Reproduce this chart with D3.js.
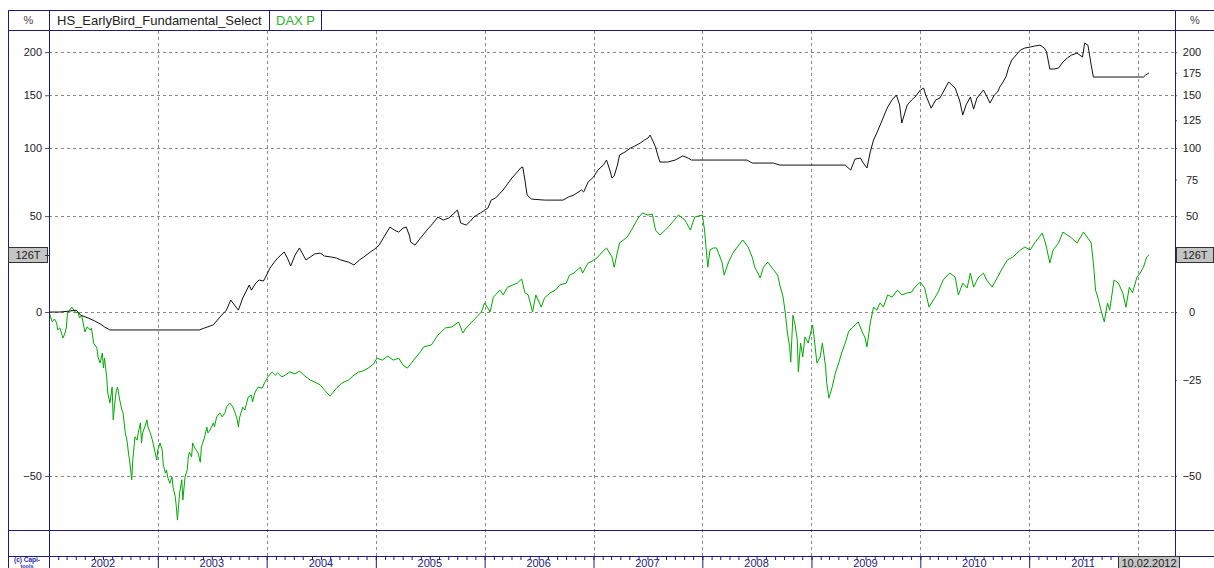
<!DOCTYPE html>
<html><head><meta charset="utf-8">
<script src="https://cdnjs.cloudflare.com/ajax/libs/d3/7.8.5/d3.min.js"></script>
<style>html,body{margin:0;padding:0;background:#fff;}svg{display:block;font-family:"Liberation Sans",Arial,sans-serif;}</style>
</head><body><svg id="c" width="1214" height="568"></svg>
<script>
const seriesNames = ["HS_EarlyBird_Fundamental_Select", "DAX P"];
const fundT = [2002.00,2002.10,2002.19,2002.25,2002.29,2002.36,2002.42,2002.47,2002.51,2002.56,
2003.38,2003.43,2003.51,2003.57,2003.63,2003.67,2003.71,2003.74,2003.78,2003.84,
2003.86,2003.90,2003.93,2003.97,2003.99,2004.03,2004.07,2004.10,2004.13,2004.16,
2004.19,2004.22,2004.26,2004.30,2004.33,2004.36,2004.40,2004.44,2004.49,2004.53,
2004.59,2004.64,2004.68,2004.75,2004.80,2004.85,2004.89,2004.95,2004.99,2005.03,
2005.08,2005.13,2005.17,2005.21,2005.25,2005.28,2005.31,2005.32,2005.36,2005.41,
2005.47,2005.52,2005.57,2005.62,2005.67,2005.71,2005.75,2005.78,2005.83,2005.87,
2005.90,2005.96,2006.03,2006.06,2006.10,2006.17,2006.21,2006.25,2006.30,2006.33,
2006.35,2006.37,2006.39,2006.43,2006.55,2006.72,2006.77,2006.82,2006.89,2006.91,
2006.95,2007.00,2007.04,2007.09,2007.12,2007.15,2007.17,2007.19,2007.22,2007.24,
2007.29,2007.34,2007.38,2007.43,2007.47,2007.50,2007.52,2007.55,2007.57,2007.59,
2007.61,2007.68,2007.75,2007.82,2007.87,2007.90,2008.10,2008.41,2008.44,2008.46,
2008.65,2008.71,2009.31,2009.36,2009.40,2009.45,2009.47,2009.51,2009.54,2009.57,
2009.60,2009.65,2009.68,2009.70,2009.74,2009.78,2009.81,2009.83,2009.86,2009.88,
2009.92,2009.96,2010.00,2010.03,2010.05,2010.08,2010.10,2010.14,2010.18,2010.22,
2010.26,2010.29,2010.32,2010.36,2010.39,2010.42,2010.46,2010.49,2010.52,2010.58,
2010.61,2010.64,2010.68,2010.71,2010.73,2010.76,2010.79,2010.81,2010.84,2010.88,
2010.92,2010.96,2011.01,2011.05,2011.10,2011.14,2011.16,2011.19,2011.23,2011.27,
2011.31,2011.35,2011.39,2011.44,2011.49,2011.51,2011.54,2011.57,2011.59,2011.68,
2012.05,2012.07,2012.10];
const fundV = [0,0,0.4,0.8,-1.3,-2.5,-3.7,-4.9,-6.1,-7.3,
-7.3,-6.5,-5.3,-2.1,0.8,5.2,2.6,0.8,6.1,12.1,
9.7,13.0,14.5,14.0,15.9,20.4,23.5,25.6,27.2,28.9,
25.6,21.5,27.2,31.1,27.8,24.6,26.2,27.8,28.3,26.7,
26.2,25.6,24.6,23.5,22.0,24.6,26.2,28.9,30.5,32.7,
37.9,43.2,41.4,40.2,42.6,43.2,37.9,34.4,32.7,36.7,
41.4,45.1,49.4,47.5,48.8,51.3,53.9,45.7,44.4,46.9,
49.4,52.0,55.2,60.5,61.9,67.5,71.8,76.2,80.7,83.8,
84.6,74.7,64.0,61.2,60.5,60.5,62.6,64.0,67.5,66.1,
73.2,76.9,82.2,86.1,90.1,82.2,76.2,77.7,86.1,94.2,
96.7,100.0,101.7,104.3,106.9,108.6,111.3,105.1,100.8,94.2,
88.5,88.5,90.1,93.4,91.7,90.1,90.1,90.1,88.5,87.7,
87.7,86.1,86.1,82.2,90.9,91.7,88.5,83.8,96.7,106.9,
113.1,125.1,132.9,137.8,145.0,150.2,139.9,122.3,132.9,139.9,
145.0,149.2,155.6,157.7,150.2,141.9,136.8,145.0,147.1,155.6,
164.4,161.0,157.7,145.0,129.9,139.9,148.1,135.8,147.1,155.6,
149.2,141.9,150.2,153.4,158.8,164.4,171.2,180.5,190.1,196.3,
202.6,205.2,206.5,207.8,209.0,205.2,200.1,179.3,179.3,180.5,
187.7,192.6,196.3,198.8,193.8,211.7,209.0,184.0,170.0,170.0,
170.0,172.3,174.6];
const daxT = [2002.00,2002.03,2002.05,2002.07,2002.08,2002.10,2002.12,2002.13,2002.15,2002.16,
2002.17,2002.21,2002.24,2002.27,2002.28,2002.30,2002.33,2002.35,2002.38,2002.39,
2002.41,2002.44,2002.45,2002.47,2002.49,2002.50,2002.51,2002.53,2002.54,2002.56,
2002.58,2002.59,2002.61,2002.62,2002.63,2002.65,2002.67,2002.68,2002.70,2002.72,
2002.73,2002.74,2002.76,2002.77,2002.79,2002.81,2002.82,2002.84,2002.85,2002.86,
2002.88,2002.90,2002.91,2002.93,2002.95,2002.97,2002.99,2003.00,2003.02,2003.04,
2003.05,2003.07,2003.08,2003.09,2003.11,2003.13,2003.14,2003.16,2003.17,2003.18,
2003.20,2003.22,2003.23,2003.25,2003.27,2003.28,2003.29,2003.31,2003.32,2003.34,
2003.37,2003.39,2003.40,2003.43,2003.45,2003.46,2003.48,2003.51,2003.52,2003.54,
2003.57,2003.59,2003.62,2003.63,2003.66,2003.69,2003.71,2003.73,2003.74,2003.75,
2003.78,2003.80,2003.83,2003.86,2003.87,2003.89,2003.92,2003.96,2003.98,2004.01,
2004.05,2004.08,2004.10,2004.14,2004.17,2004.21,2004.26,2004.30,2004.35,2004.40,
2004.44,2004.49,2004.53,2004.58,2004.61,2004.64,2004.69,2004.75,2004.79,2004.84,
2004.88,2004.93,2004.98,2005.01,2005.06,2005.11,2005.16,2005.21,2005.25,2005.29,
2005.32,2005.37,2005.41,2005.44,2005.51,2005.57,2005.64,2005.70,2005.76,2005.80,
2005.83,2005.90,2005.97,2006.00,2006.05,2006.08,2006.14,2006.17,2006.21,2006.26,
2006.30,2006.34,2006.37,2006.40,2006.44,2006.47,2006.52,2006.55,2006.60,2006.65,
2006.69,2006.75,2006.78,2006.82,2006.88,2006.90,2006.95,2006.99,2007.03,2007.08,
2007.12,2007.17,2007.19,2007.22,2007.24,2007.31,2007.36,2007.41,2007.45,2007.50,
2007.54,2007.57,2007.61,2007.66,2007.72,2007.78,2007.84,2007.89,2007.93,2008.00,
2008.02,2008.05,2008.07,2008.10,2008.13,2008.18,2008.20,2008.24,2008.28,2008.32,
2008.37,2008.42,2008.46,2008.48,2008.53,2008.56,2008.60,2008.64,2008.69,2008.71,
2008.74,2008.76,2008.78,2008.80,2008.81,2008.83,2008.85,2008.87,2008.88,2008.90,
2008.92,2008.94,2008.97,2009.01,2009.02,2009.05,2009.08,2009.10,2009.13,2009.14,
2009.16,2009.19,2009.22,2009.25,2009.28,2009.31,2009.34,2009.37,2009.40,2009.43,
2009.47,2009.49,2009.51,2009.54,2009.57,2009.60,2009.63,2009.66,2009.70,2009.74,
2009.79,2009.83,2009.88,2009.92,2009.95,2010.00,2010.04,2010.08,2010.12,2010.16,
2010.21,2010.27,2010.32,2010.35,2010.39,2010.43,2010.46,2010.49,2010.53,2010.58,
2010.61,2010.66,2010.71,2010.76,2010.80,2010.85,2010.92,2010.96,2011.01,2011.05,
2011.12,2011.15,2011.19,2011.22,2011.27,2011.31,2011.38,2011.44,2011.50,2011.54,
2011.57,2011.59,2011.61,2011.63,2011.66,2011.69,2011.72,2011.74,2011.78,2011.82,
2011.86,2011.89,2011.92,2011.95,2011.99,2012.02,2012.05,2012.08,2012.10];
const daxV = [0,-4.1,-2.9,-4.5,-7.3,-6.5,-9.3,-10.4,-8.1,-6.1,
-0.4,2.1,0,-0.4,-2.5,-1.3,-8.1,-6.1,-7.3,-6.5,
-12.3,-14.1,-17.3,-19.4,-15.9,-21.1,-17.7,-24.0,-29.0,-31.9,
-27.2,-36.6,-30.2,-28.1,-27.2,-31.1,-33.9,-34.7,-39.8,-42.5,
-44.9,-46.5,-50.8,-46.5,-41.0,-41.8,-40.0,-37.4,-42.5,-40.0,
-38.5,-36.6,-38.5,-40.0,-41.8,-44.2,-46.5,-44.2,-42.5,-44.2,
-47.6,-49.4,-48.7,-50.2,-51.5,-50.2,-52.3,-54.2,-56.1,-58.5,
-53.5,-50.8,-54.8,-50.2,-48.7,-45.8,-44.7,-45.8,-42.5,-43.7,
-44.9,-47.0,-43.5,-41.0,-38.5,-40.0,-39.3,-37.4,-38.5,-35.8,
-34.7,-35.8,-34.5,-33.1,-31.9,-33.1,-34.7,-36.6,-38.5,-36.1,
-33.1,-33.9,-30.2,-29.6,-31.6,-29.0,-27.2,-27.5,-25.9,-24.0,
-22.4,-23.4,-22.7,-24.0,-23.4,-22.4,-23.0,-22.1,-23.7,-25.0,
-25.6,-26.5,-28.1,-29.9,-28.7,-27.5,-25.9,-25.0,-23.7,-22.4,
-22.1,-21.1,-19.7,-17.7,-18.4,-17.0,-18.4,-17.7,-20.1,-21.1,
-19.7,-17.3,-15.5,-13.7,-13.0,-9.3,-6.5,-6.1,-4.1,-8.5,
-6.5,-3.3,0,3.9,0,6.5,9.7,7.5,11.1,12.1,
13.0,15.0,8.4,7.5,0,7.5,2.1,6.1,8.4,9.7,
12.1,13.0,16.9,17.9,20.9,17.9,23.0,24.1,25.6,28.9,
31.1,26.2,20.9,28.9,33.9,37.3,42.6,48.8,52.0,50.7,
51.3,41.4,38.5,41.4,45.7,50.7,47.5,41.4,49.4,50.7,
41.4,20.9,30.0,31.1,31.1,23.5,16.9,23.5,28.3,31.6,
35.6,31.6,25.6,20.9,15.5,20.9,23.5,20.4,16.9,12.1,
6.5,-0.4,-8.5,-13.7,-19.1,-1.3,-5.3,-11.2,-22.4,-12.3,
-17.3,-10.0,-12.3,-5.3,-8.5,-19.4,-17.3,-12.3,-20.7,-25.9,
-30.5,-27.2,-22.7,-19.4,-15.5,-12.3,-8.1,-6.5,-5.3,-4.1,
-8.5,-10.0,-13.7,-4.5,2.1,0.8,3.9,2.1,7.5,6.5,
9.7,7.5,8.4,8.8,11.1,13.5,10.7,2.1,5.2,8.4,
14.5,17.9,15.9,7.5,13.0,10.7,17.9,11.1,15.5,17.9,
14.5,11.1,15.9,20.9,24.6,26.2,30.0,31.6,30.0,33.9,
39.6,33.9,23.0,30.0,33.9,40.2,37.3,33.9,40.2,36.7,
33.9,23.0,9.7,6.5,0.8,-4.1,3.9,0.8,14.5,13.0,
8.4,2.1,11.1,8.4,15.9,17.9,20.9,26.2,27.2];
const leftTicks = [200, 150, 100, 50, 0, -50];
const rightTicks = [200, 175, 150, 125, 100, 75, 50, 0, -25, -50];
const yearLabels = [2002, 2003, 2004, 2005, 2006, 2007, 2008, 2009, 2010, 2011];
const yExtent = [-60.2, 228];
const lastValueLabel = "126T";
const lastDateLabel = "10.02.2012";
const unitLabel = "%";

const W = 1214, H = 568, L = 49, R = 1175, T = 31, B = 530, AX = 556;
const navy = "#1c1c82", grid = "#8a8a8a", txt = "#222";
const svg = d3.select("#c");
svg.append("rect").attr("width", W).attr("height", H).attr("fill", "#fff");

const toDate = v => { const yr = Math.floor(v); const s = new Date(yr, 0, 1), e = new Date(yr + 1, 0, 1); return new Date(+s + (v - yr) * (e - s)); };
const x = d3.scaleTime().domain([new Date(2002, 0, 1), new Date(2012, 0, 1)]).range([L, 1138]);
const yLog = d3.scaleLog().domain(yExtent.map(p => 1 + p / 100)).range([B, T]);
const Y = p => yLog(1 + p / 100);
const crisp = v => Math.round(v) + 0.5;

// grid
const gGrid = svg.append("g").attr("stroke", grid).attr("stroke-dasharray", "3,3").attr("stroke-width", 1);
leftTicks.forEach(p => gGrid.append("line").attr("x1", L).attr("x2", R).attr("y1", crisp(Y(p))).attr("y2", crisp(Y(p))));
d3.range(2003, 2013).forEach(yr => {
  const xx = crisp(x(new Date(yr, 0, 1)));
  gGrid.append("line").attr("x1", xx).attr("x2", xx).attr("y1", T).attr("y2", AX);
});

// series
svg.append("clipPath").attr("id", "pc").append("rect").attr("x", L).attr("y", T).attr("width", R - L).attr("height", B - T);
const line = d3.line().x(d => x(toDate(d[0]))).y(d => Y(d[1]));
const gS = svg.append("g").attr("clip-path", "url(#pc)").attr("fill", "none");
gS.append("path").attr("d", line(daxT.map((t, i) => [t, daxV[i]]))).attr("stroke", "#00aa00").attr("stroke-width", 1);
gS.append("path").attr("d", line(fundT.map((t, i) => [t, fundV[i]]))).attr("stroke", "#111").attr("stroke-width", 1);

// left axis
const la = svg.append("g").attr("transform", `translate(${L},0)`)
  .call(d3.axisLeft(yLog).tickValues(leftTicks.map(p => 1 + p / 100)).tickFormat(v => d3.format("d")(Math.round((v - 1) * 100))).tickSize(4).tickPadding(3));
la.select(".domain").remove();
la.selectAll("line").attr("stroke", "#555");
la.selectAll("text").attr("fill", txt).attr("font-size", 11).attr("font-family", "Liberation Sans, Arial, sans-serif");

// right axis
const ra = svg.append("g").attr("transform", `translate(${R},0)`)
  .call(d3.axisRight(yLog).tickValues(rightTicks.map(p => 1 + p / 100)).tickFormat(v => d3.format("d")(Math.round((v - 1) * 100))).tickSize(2));
ra.select(".domain").remove();
ra.selectAll("line").attr("stroke", "#555");
ra.selectAll("text").attr("fill", txt).attr("font-size", 11).attr("font-family", "Liberation Sans, Arial, sans-serif").attr("text-anchor", "middle").attr("x", 17);

// bottom axis: month ticks and year ticks
const ba = svg.append("g").attr("transform", `translate(0,${AX})`)
  .call(d3.axisBottom(x).ticks(d3.timeMonth.every(1)).tickSize(4).tickFormat(""));
ba.select(".domain").remove();
ba.selectAll("line").attr("stroke", navy);
const by = svg.append("g").attr("transform", `translate(0,${AX})`)
  .call(d3.axisBottom(x).ticks(d3.timeYear.every(1)).tickSize(14).tickFormat(""));
by.select(".domain").remove();
by.selectAll("line").attr("stroke", navy);
yearLabels.forEach(yr => {
  svg.append("text").attr("x", x(new Date(yr, 6, 1))).attr("y", 567).attr("text-anchor", "middle")
    .attr("font-size", 11).attr("fill", navy).text(yr);
});

// frame
const gF = svg.append("g").attr("stroke", navy).attr("stroke-width", 1);
[[8, 10.5, W, 10.5], [8, 30.5, W, 30.5], [8, 530.5, W, 530.5], [8, 556.5, W, 556.5],
 [8.5, 10, 8.5, H], [49.5, 10, 49.5, H], [1175.5, 10, 1175.5, 562], [269.5, 10, 269.5, 31], [321.5, 10, 321.5, 31]]
  .forEach(s => gF.append("line").attr("x1", s[0]).attr("y1", s[1]).attr("x2", s[2]).attr("y2", s[3]));

// header texts
svg.append("text").attr("x", 28.5).attr("y", 24).attr("text-anchor", "middle").attr("font-size", 11).attr("fill", "#444").text(unitLabel);
svg.append("text").attr("x", 1195).attr("y", 24).attr("text-anchor", "middle").attr("font-size", 11).attr("fill", "#444").text(unitLabel);
svg.append("text").attr("x", 57).attr("y", 25).attr("font-size", 13).attr("fill", txt).text(seriesNames[0]);
svg.append("text").attr("x", 276).attr("y", 25).attr("font-size", 13).attr("fill", "#2ab52a").text(seriesNames[1]);

// last value labels
const ly = Math.round(Y(daxV[daxV.length - 1]));
[[8.5, 39], [1176.5, 37]].forEach(b => {
  svg.append("rect").attr("x", b[0]).attr("y", ly - 7.5).attr("width", b[1]).attr("height", 15)
    .attr("fill", "#c4c4c4").attr("stroke", "#333");
  svg.append("text").attr("x", b[0] + b[1] / 2).attr("y", ly + 4).attr("text-anchor", "middle")
    .attr("font-size", 11).attr("fill", txt).text(lastValueLabel);
});
svg.append("line").attr("x1", 45).attr("x2", 49).attr("y1", ly + 0.5).attr("y2", ly + 0.5).attr("stroke", "#333");

// date box
svg.append("rect").attr("x", 1118.5).attr("y", 556.5).attr("width", 61).attr("height", 14).attr("fill", "#c4c4c4").attr("stroke", "#333");
svg.append("text").attr("x", 1149).attr("y", 567).attr("text-anchor", "middle").attr("font-size", 11).attr("fill", txt).text(lastDateLabel);

// copyright mark
svg.append("text").attr("x", 27).attr("y", 562).attr("text-anchor", "middle").attr("font-size", 6.5).attr("font-weight", "bold").attr("fill", "#2a2ab0").text("(c) Capi-");
svg.append("text").attr("x", 27).attr("y", 567.5).attr("text-anchor", "middle").attr("font-size", 5.5).attr("font-weight", "bold").attr("fill", "#2a2ab0").text("tools");
</script></body></html>
